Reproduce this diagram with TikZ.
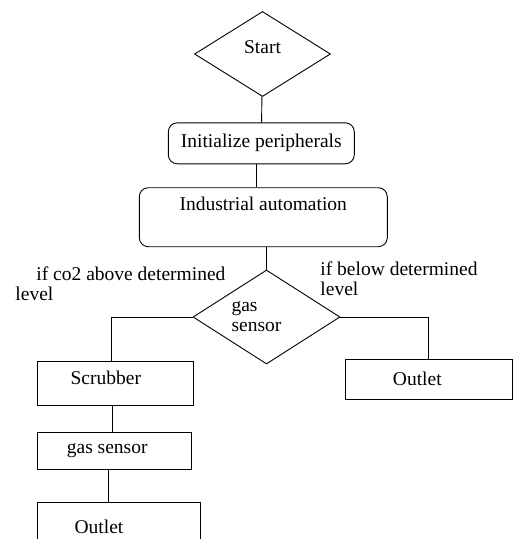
\documentclass[tikz,border=0pt]{standalone}
\usepackage{fontspec}
\setmainfont{Liberation Serif}
\newfontfamily\flowfont{Liberation Serif}
\usetikzlibrary{shapes.geometric,calc,positioning}
\tikzstyle{decision} = [diamond, draw, aspect=1.6, inner sep=0pt]
\tikzstyle{process} = [rectangle, draw, inner sep=0pt]
\tikzstyle{startstop} = [rectangle, rounded corners=9pt, draw, inner sep=0pt]
\tikzstyle{cond} = [anchor=north west, align=left, inner sep=0pt]

\begin{document}
\begin{tikzpicture}[x=1pt, y=-1pt, line width=0.9pt, font=\flowfont\fontsize{19.5}{20}\selectfont]

    %\draw (0,0) grid (513,539);
    \useasboundingbox (0,0) rectangle (513,539);
    \clip (0,0) rectangle (513,539);

    \node[decision, minimum width=136pt, minimum height=85pt, text depth=14pt]
        (start) at (262.5,54) {Start};
    \node[startstop, minimum width=186pt, minimum height=41pt]
        (init) at (261.3,143.3) {Initialize peripherals};
    \node[startstop, minimum width=248pt, minimum height=59pt, text depth=26pt]
        (ind) at (263.3,217.2) {Industrial automation};
    \node[decision, minimum width=147pt, minimum height=94pt, align=left]
        (gas) at (266.5,317) {gas\\sensor\hspace*{20pt}};

    \node[process, minimum width=156pt, minimum height=44pt, text depth=11pt]
        (scrub) at (115.3,383.7) {Scrubber\hspace*{19pt}};
    \node[process, minimum width=154pt, minimum height=37pt]
        (sensor) at (114.2,450.7) {gas sensor\hspace*{14pt}};
    \node[process, minimum width=163pt, minimum height=50pt]
        (outleta) at (119,527) {Outlet\hspace*{40pt}};
    \node[process, minimum width=167pt, minimum height=40pt]
        (outletb) at (428.8,379.3) {Outlet\hspace*{23pt}};

    % branch conditions
    \node[cond] (above) at (15,266.5) {\hspace*{21pt}if co2 above determined\\level};
    \node[cond] (below) at (320,261.5) {if below determined\\level};

    \draw (start) -- (init);
    \draw ([xshift=-4.6pt]init.south) -- ([xshift=-4.6pt]init.south |- ind.north);
    \draw (gas.north |- ind.south) -- (gas.north);

    \draw (gas.west) -| ([xshift=-4pt]scrub.north);
    \draw (gas.east) -| (outletb.north);

    \draw ([xshift=-3pt]scrub.south) -- ([xshift=-3pt]scrub.south |- sensor.north);
    \draw ([xshift=-6pt]sensor.south) -- ([xshift=-6pt]sensor.south |- outleta.north);

\end{tikzpicture}
\end{document}
